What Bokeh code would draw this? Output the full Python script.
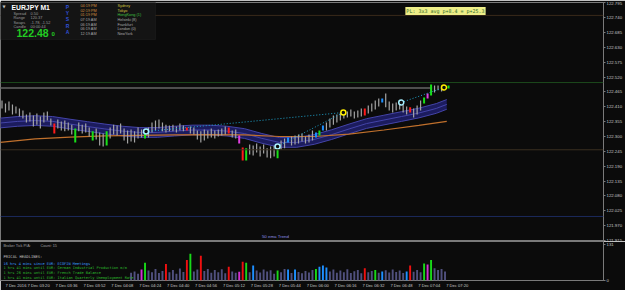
from bokeh.plotting import figure
from bokeh.layouts import column
from bokeh.models import Range1d, FixedTicker, Span, Label, BoxAnnotation, PrintfTickFormatter
from bokeh.embed import file_html
from bokeh.resources import INLINE

# ---------------- data ----------------
SYMBOL = "EURJPY"
TIMEFRAME = "M1"
BID = 122.480

# 2-minute bars; time = minutes after 03:00 on 7 Dec 2016
BAR_T0 = 6
BAR_STEP = 2
BAR_HIGH = [
    122.433, 122.422, 122.430, 122.419, 122.411, 122.404, 122.396, 122.382, 122.389, 122.378,
    122.385, 122.374, 122.389, 122.393, 122.367, 122.348, 122.363, 122.356, 122.359, 122.352,
    122.344, 122.330, 122.352, 122.344, 122.348, 122.333, 122.319, 122.330, 122.315, 122.311,
    122.319, 122.333, 122.344, 122.341, 122.348, 122.330, 122.322, 122.326, 122.319, 122.333,
    122.326, 122.319, 122.333, 122.352, 122.359, 122.363, 122.352, 122.344, 122.341, 122.344,
    122.337, 122.348, 122.341, 122.333, 122.337, 122.333, 122.322, 122.319, 122.326, 122.322,
    122.330, 122.322, 122.326, 122.330, 122.337, 122.333, 122.322, 122.326, 122.304, 122.259,
    122.256, 122.270, 122.267, 122.274, 122.263, 122.270, 122.256, 122.263, 122.267, 122.259,
    122.285, 122.293, 122.296, 122.300, 122.304, 122.307, 122.311, 122.300, 122.307, 122.322,
    122.315, 122.322, 122.341, 122.352, 122.367, 122.378, 122.382, 122.389, 122.396, 122.393,
    122.400, 122.393, 122.396, 122.404, 122.404, 122.415, 122.422, 122.433, 122.441, 122.441,
    122.459, 122.430, 122.422, 122.426, 122.430, 122.419, 122.411, 122.408, 122.404, 122.415,
    122.433, 122.445, 122.459, 122.493, 122.489, 122.489, 122.485, 122.489, 122.489,
]
BAR_LOW = [
    122.404, 122.389, 122.396, 122.382, 122.385, 122.374, 122.367, 122.352, 122.356, 122.337,
    122.344, 122.330, 122.352, 122.359, 122.341, 122.311, 122.330, 122.322, 122.319, 122.322,
    122.307, 122.278, 122.319, 122.311, 122.315, 122.300, 122.285, 122.289, 122.267, 122.263,
    122.267, 122.293, 122.307, 122.304, 122.311, 122.285, 122.274, 122.281, 122.278, 122.293,
    122.296, 122.293, 122.296, 122.315, 122.322, 122.330, 122.319, 122.315, 122.319, 122.319,
    122.315, 122.322, 122.319, 122.322, 122.311, 122.307, 122.289, 122.278, 122.285, 122.293,
    122.296, 122.293, 122.300, 122.304, 122.307, 122.311, 122.296, 122.293, 122.274, 122.211,
    122.211, 122.233, 122.230, 122.241, 122.226, 122.237, 122.222, 122.219, 122.226, 122.219,
    122.252, 122.256, 122.278, 122.267, 122.270, 122.274, 122.281, 122.274, 122.278, 122.285,
    122.296, 122.304, 122.322, 122.322, 122.333, 122.344, 122.352, 122.359, 122.367, 122.370,
    122.374, 122.367, 122.370, 122.374, 122.378, 122.385, 122.393, 122.400, 122.411, 122.426,
    122.408, 122.396, 122.389, 122.396, 122.400, 122.389, 122.382, 122.389, 122.370, 122.382,
    122.396, 122.422, 122.441, 122.452, 122.463, 122.471, 122.467, 122.474, 122.478,
]
RED_BARS = [15, 53, 65, 69, 104, 117]
GREEN_BARS = [21, 26, 30, 41, 70, 79, 91, 121, 123, 128]
BLUE_BARS = [82, 90, 92, 109]
MAGENTA_BARS = [68, 122]

# EMA ribbon (upper / middle / lower) and the slow (orange) average
RIBBON_T = [5, 15, 25, 35, 45, 55, 65, 75, 85, 95, 105, 115, 125, 135, 145, 155, 165, 175,
            185, 195, 205, 215, 225, 235, 245, 255, 261]
RIBBON_MID = [122.350, 122.356, 122.359, 122.356, 122.346, 122.337, 122.328, 122.320, 122.315,
              122.315, 122.320, 122.324, 122.324, 122.320, 122.311, 122.293, 122.278, 122.278,
              122.289, 122.307, 122.328, 122.348, 122.361, 122.374, 122.387, 122.404, 122.419]
RIBBON_UPPER = [122.368, 122.374, 122.377, 122.374, 122.364, 122.355, 122.346, 122.338, 122.333,
                122.333, 122.338, 122.342, 122.342, 122.338, 122.329, 122.311, 122.296, 122.296,
                122.307, 122.325, 122.346, 122.366, 122.379, 122.392, 122.405, 122.422, 122.437]
RIBBON_LOWER = [122.332, 122.338, 122.341, 122.338, 122.328, 122.319, 122.310, 122.302, 122.297,
                122.297, 122.302, 122.306, 122.306, 122.302, 122.293, 122.275, 122.260, 122.260,
                122.271, 122.289, 122.310, 122.330, 122.343, 122.356, 122.369, 122.386, 122.401]
SLOW_T = [5, 25, 45, 65, 85, 105, 125, 145, 165, 185, 205, 225, 245, 261]
SLOW_MA = [122.278, 122.291, 122.298, 122.302, 122.304, 122.306, 122.307, 122.306, 122.300,
           122.300, 122.309, 122.324, 122.341, 122.356]

# swing signals and the dotted lines that join them
SIGNAL_T = [88.6, 164.0, 201.7, 234.9, 259.4]
SIGNAL_P = [122.3185, 122.2629, 122.389, 122.426, 122.4817]
SIGNAL_COLOR = ["#a8f0ff", "#a8f0ff", "#ffee00", "#a8f0ff", "#ffee00"]
SIGNAL_LINKS = [(0, 2), (1, 2), (3, 4)]

# horizontal levels
LEVELS = [122.749, 122.500, 122.2507, 122.0035]
LEVEL_COLORS = ["#3a2a1a", "#1d4a1d", "#3b3020", "#1c2a5c"]
BID_LINE_END = 252.6

# tick-volume panel (starts at bar 37)
VOL_FIRST_BAR = 37
VOLUME = [28, 33, 25, 40, 65, 36, 30, 42, 27, 35, 60, 30, 38, 25, 44, 31, 75, 97, 33, 40,
          90, 35, 42, 28, 38, 30, 41, 26, 50, 33, 28, 32, 68, 65, 30, 55, 36, 29, 40, 33,
          37, 25, 36, 30, 42, 40, 27, 40, 31, 26, 35, 29, 38, 42, 50, 55, 47, 33, 40, 28,
          36, 30, 41, 27, 34, 38, 26, 45, 30, 35, 38, 28, 33, 37, 29, 40, 31, 36, 27, 33,
          55, 32, 38, 30, 62, 58, 75, 45, 38, 42, 33]
VOL_RED = [47, 53, 57, 65, 69, 104, 117]
VOL_GREEN = [41, 54, 70, 79, 90, 107, 121, 123]
VOL_BLUE = [72, 82, 84, 91, 92, 93, 109, 116]
VOL_MAGENTA = [40, 68, 122]

PRICE_TICKS = [121.915, 121.970, 122.025, 122.080, 122.135, 122.190, 122.245, 122.300, 122.355,
               122.410, 122.465, 122.520, 122.575, 122.630, 122.685, 122.740, 122.795]
VOL_TICKS = [0, 131]
TIME_TICKS = [7, 20, 36, 52, 68, 84, 100, 116, 132, 148, 164, 180, 196, 212, 228, 244, 260]
TIME_LABELS = ["7 Dec 2016", "7 Dec 03:20", "7 Dec 03:36", "7 Dec 03:52", "7 Dec 04:08",
               "7 Dec 04:24", "7 Dec 04:40", "7 Dec 04:56", "7 Dec 05:12", "7 Dec 05:28",
               "7 Dec 05:44", "7 Dec 06:00", "7 Dec 06:16", "7 Dec 06:32", "7 Dec 06:48",
               "7 Dec 07:04", "7 Dec 07:20"]

INFO_NAMES = ["Spread", "Range", "Swaps", "Candle"]
INFO_VALUES = ["0.50", "120.37", "-1.78, -1.52", "00:00:44"]
SESSION_LETTERS = ["P", "Y", "S", "R", "A"]
SESSION_TIMES = ["04:19 PM", "02:19 PM", "01:19 PM", "07:19 AM", "06:19 AM", "06:19 AM", "12:19 AM"]
SESSION_CITIES = ["Sydney", "Tokyo", "HongKong (1)", "Helsinki (8)", "Frankfurt", "London (0)", "NewYork"]
PIVOT_NOTE = "PL: 3x3 avg p+8.4 = p+25.3"
HEADLINES = ["16 hrs 4 mins since EUR: ECOFIN Meetings",
             "1 hrs 41 mins until EUR: German Industrial Production m/m",
             "1 hrs 26 mins until EUR: French Trade Balance",
             "1 hrs 41 mins until EUR: Italian Quarterly Unemployment Rate"]
TICK_COUNT = 15

# ---------------- styling / layout ----------------
BG = "#0b0b0b"
EDGE = "#7a7a7a"
FONT = "Liberation Sans"
MONO = "DejaVu Sans Mono"
W = 625
RIGHT = 20
FRAME_W = W - RIGHT
MAIN_H = 241
LOW_H = 49
PX_PER_MIN = 1.75
X_START = 20 - 26 / PX_PER_MIN
x_range = Range1d(X_START, X_START + FRAME_W / PX_PER_MIN)

KIND_COLOR = {"n": "#a4a4a4", "r": "#ff1a1a", "g": "#18e018", "b": "#1e90ff", "m": "#e040e0"}
VOL_COLOR = {"n": "#50507e", "r": "#f01010", "g": "#18d818", "b": "#1e8fff", "m": "#d030d0"}

main = figure(width=W, height=MAIN_H, x_range=x_range, y_range=Range1d(121.9144, 122.7968),
              output_backend="svg", toolbar_location=None, x_axis_location=None,
              y_axis_location="right", min_border_left=0, min_border_right=RIGHT,
              min_border_top=2, min_border_bottom=1, background_fill_color=BG,
              border_fill_color=BG, outline_line_color=EDGE)
main.grid.visible = False
ya = main.yaxis[0]
ya.ticker = FixedTicker(ticks=PRICE_TICKS)
ya.formatter = PrintfTickFormatter(format="%.3f")
ya.major_label_text_font = FONT
ya.major_label_text_font_size = "4.3px"
ya.major_label_text_color = "#c8c8c8"
ya.major_tick_out = 2
ya.major_tick_in = 0
ya.minor_tick_out = 0
ya.minor_tick_in = 0
ya.major_label_standoff = 1
ya.axis_line_color = EDGE
ya.major_tick_line_color = EDGE

for lvl, col in zip(LEVELS, LEVEL_COLORS):
    main.add_layout(Span(location=lvl, dimension="width", line_color=col, line_width=1))

main.segment(x0=[X_START], y0=[BID], x1=[BID_LINE_END], y1=[BID], line_color="#4e4e4e", line_width=2)

# ribbon
main.varea(x=RIBBON_T, y1=RIBBON_LOWER, y2=RIBBON_UPPER, fill_color="#1c1c5e")
for arr in (RIBBON_UPPER, RIBBON_MID, RIBBON_LOWER):
    main.line(RIBBON_T, arr, line_color="#4444a8", line_width=1)
main.line(SLOW_T, SLOW_MA, line_color="#c0702c", line_width=1.2)

# bars
n = len(BAR_HIGH)
bar_t = [BAR_T0 + BAR_STEP * i for i in range(n)]
kinds = ["n"] * n
for lst, k in ((RED_BARS, "r"), (GREEN_BARS, "g"), (BLUE_BARS, "b"), (MAGENTA_BARS, "m")):
    for i in lst:
        kinds[i] = k
main.segment(x0=bar_t, y0=BAR_LOW, x1=bar_t, y1=BAR_HIGH,
             line_color=[KIND_COLOR[k] for k in kinds],
             line_width=[1.2 if k == "n" else 2 for k in kinds])

# dotted links + signals
for a, b in SIGNAL_LINKS:
    main.line([SIGNAL_T[a], SIGNAL_T[b]], [SIGNAL_P[a], SIGNAL_P[b]], line_color="#1fa3cc",
              line_width=1, line_dash="1 2")
main.scatter(SIGNAL_T, SIGNAL_P, marker="circle", size=5, fill_color=BG,
             line_color=SIGNAL_COLOR, line_width=1.5)


def label(fig, px, py, text, fb, size, color, font=FONT, style="normal", align="left", **kw):
    fig.add_layout(Label(x=px, y=fb - py, x_units="screen", y_units="screen", text=text,
                         text_font=font, text_font_size=f"{size}px", text_color=color,
                         text_font_style=style, text_align=align, text_baseline="middle", **kw))


MB = 240  # main frame bottom (page px)
main.add_layout(BoxAnnotation(left=0, right=155, top=MB - 1, bottom=MB - 39, left_units="screen",
                              right_units="screen", top_units="screen", bottom_units="screen",
                              fill_color="#141414", fill_alpha=1, line_color="#2c2c2c", line_width=1))
label(main, 2, 6, "\u25bc", MB, 4, "#c0c0c0", font="DejaVu Sans")
label(main, 11, 6.5, f"{SYMBOL}   {TIMEFRAME}", MB, 6.8, "#ffffff", style="bold")
for j, (nm, vv) in enumerate(zip(INFO_NAMES, INFO_VALUES)):
    label(main, 13, 12.7 + 4.4 * j, nm, MB, 3.9, "#9a9a9a")
    label(main, 30, 12.7 + 4.4 * j, vv, MB, 3.9, "#9a9a9a")
label(main, 16, 32.5, f"{BID:.2f}", MB, 10.5, "#22cc22", style="bold")
label(main, 51, 33.5, f"{BID:.3f}"[-1], MB, 6, "#22cc22", style="bold")
for j, ch in enumerate(SESSION_LETTERS):
    label(main, 67, 6 + 6.4 * j, ch, MB, 5, "#3050d8", style="bold", align="center")
for j, (tm, city) in enumerate(zip(SESSION_TIMES, SESSION_CITIES)):
    tcol = "#d09040" if j < 3 else "#a8a8a8"
    ccol = "#d0c040" if j < 2 else ("#40c040" if j == 2 else "#a8a8a8")
    label(main, 80, 5.3 + 4.7 * j, tm, MB, 3.8, tcol)
    label(main, 117, 5.3 + 4.7 * j, city, MB, 3.8, ccol)
label(main, 445, 10.5, PIVOT_NOTE, MB, 5, "#2a6a2a", font=MONO, align="center",
      background_fill_color="#eeee88", padding=1)
label(main, 275, 236, "50 ema Trend", MB, 4.4, "#8c8ce0", align="center")
label(main, FRAME_W + 1, 87, f"{BID:.3f}", MB, 4.3, "#000000",
      background_fill_color="#c8c8c8", padding=0)

# ---------------- volume panel ----------------
low = figure(width=W, height=LOW_H, x_range=x_range, y_range=Range1d(0, 142),
             output_backend="svg", toolbar_location=None, y_axis_location="right",
             min_border_left=0, min_border_right=RIGHT, min_border_top=0, min_border_bottom=10,
             background_fill_color=BG, border_fill_color=BG, outline_line_color=EDGE)
low.grid.visible = False
ly = low.yaxis[0]
ly.ticker = FixedTicker(ticks=VOL_TICKS)
ly.major_label_text_font = FONT
ly.major_label_text_font_size = "4.3px"
ly.major_label_text_color = "#c8c8c8"
ly.major_tick_out = 2
ly.major_tick_in = 0
ly.minor_tick_out = 0
ly.minor_tick_in = 0
ly.major_label_standoff = 1
ly.axis_line_color = EDGE
ly.major_tick_line_color = EDGE

lx = low.xaxis[0]
lx.ticker = FixedTicker(ticks=[t + 7 for t in TIME_TICKS])
lx.major_label_overrides = {t + 7: s for t, s in zip(TIME_TICKS, TIME_LABELS)}
lx.major_label_text_font = FONT
lx.major_label_text_font_size = "4.1px"
lx.major_label_text_color = "#c8c8c8"
lx.major_tick_line_color = None
lx.minor_tick_line_color = None
lx.major_tick_out = 0
lx.major_tick_in = 0
lx.minor_tick_out = 0
lx.minor_tick_in = 0
lx.axis_line_color = None
lx.major_label_standoff = 2

vkinds = ["n"] * len(VOLUME)
for lst, k in ((VOL_RED, "r"), (VOL_GREEN, "g"), (VOL_BLUE, "b"), (VOL_MAGENTA, "m")):
    for i in lst:
        vkinds[i - VOL_FIRST_BAR] = k
vol_t = [BAR_T0 + BAR_STEP * (VOL_FIRST_BAR + j) for j in range(len(VOLUME))]
low.vbar(x=vol_t, top=VOLUME, bottom=0, width=1.1,
         fill_color=[VOL_COLOR[k] for k in vkinds], line_color=None)

LB = 280  # volume frame bottom (page px)
label(low, 3, 245.7, "Broker Tick P/A:", LB, 3.8, "#a0a0a0")
label(low, 40, 245.7, f"Count: {TICK_COUNT}", LB, 3.8, "#a0a0a0")
label(low, 3, 256, "PRICAL HEADLINES:", LB, 3.8, "#c0c0c0", font=MONO)
for j, h in enumerate(HEADLINES):
    label(low, 3, 263 + 4.9 * j, h, LB, 3.6, "#3a9cff" if j == 0 else "#2cbc2c", font=MONO)

layout = column(main, low, spacing=0)
open("out.html", "w").write(file_html(layout, INLINE))
